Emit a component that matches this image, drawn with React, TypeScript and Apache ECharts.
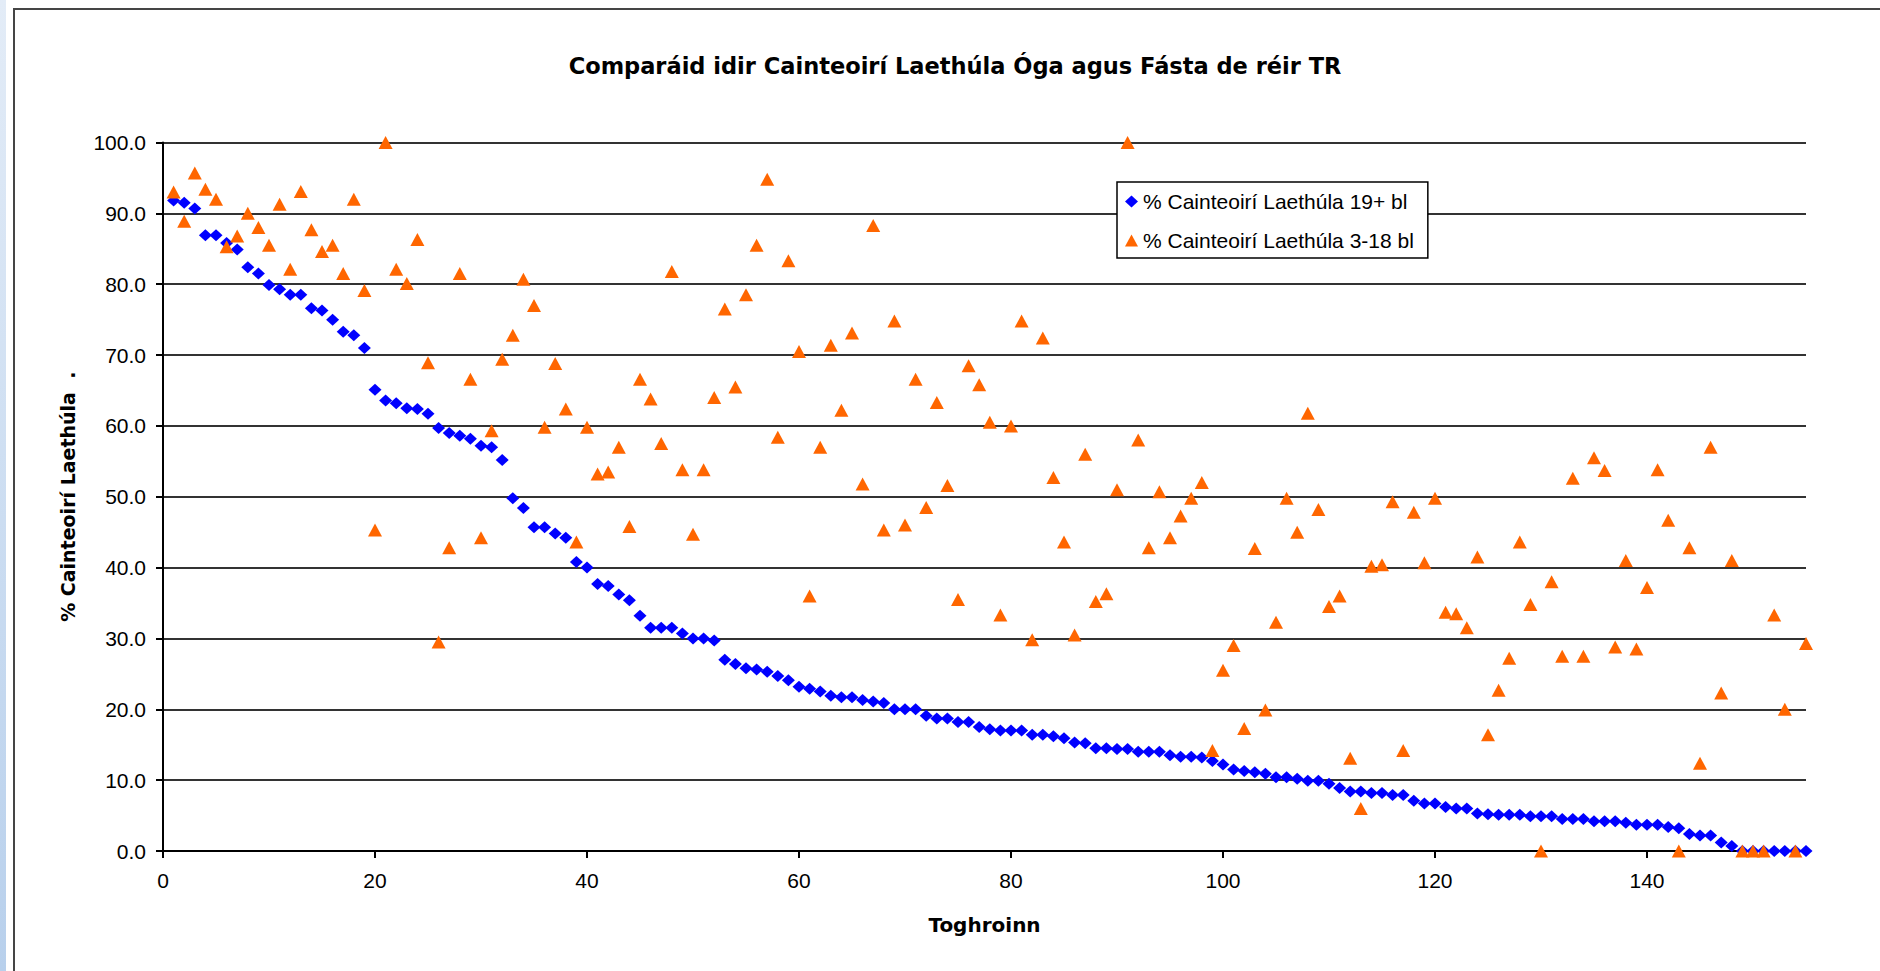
import React, { useEffect, useRef } from "react";
import * as echarts from "echarts";

const titleText = "Comparáid idir Cainteoirí Laethúla Óga agus Fásta de réir TR";
const seriesNames = ["% Cainteoirí Laethúla 19+ bl", "% Cainteoirí Laethúla 3-18 bl"];
const yAxisName = "% Cainteoirí Laethúla  .";
const xAxisName = "Toghroinn";
const xTicks = [0, 20, 40, 60, 80, 100, 120, 140];

const adultValues = [
  91.8, 91.5, 90.7, 86.9, 86.9, 85.8, 84.9, 82.4, 81.5, 79.9,
  79.3, 78.5, 78.5, 76.6, 76.3, 75.0, 73.3, 72.8, 71.0, 65.1,
  63.6, 63.2, 62.5, 62.4, 61.7, 59.7, 59.0, 58.6, 58.2, 57.2,
  57.0, 55.2, 49.8, 48.4, 45.7, 45.7, 44.8, 44.2, 40.8, 40.0,
  37.7, 37.4, 36.2, 35.4, 33.2, 31.5, 31.5, 31.5, 30.7, 30.0,
  30.0, 29.7, 27.0, 26.4, 25.8, 25.6, 25.3, 24.7, 24.1, 23.2,
  22.9, 22.5, 21.9, 21.7, 21.7, 21.3, 21.1, 20.9, 20.0, 20.0,
  20.0, 19.1, 18.7, 18.7, 18.2, 18.2, 17.5, 17.2, 17.0, 17.0,
  17.0, 16.4, 16.4, 16.2, 15.9, 15.3, 15.2, 14.5, 14.5, 14.4,
  14.4, 14.0, 14.0, 14.0, 13.5, 13.3, 13.3, 13.2, 12.7, 12.2,
  11.5, 11.3, 11.1, 10.9, 10.4, 10.4, 10.2, 9.9, 9.9, 9.5,
  8.9, 8.4, 8.4, 8.2, 8.2, 7.9, 7.9, 7.1, 6.7, 6.7,
  6.2, 6.0, 6.0, 5.3, 5.2, 5.1, 5.1, 5.1, 4.9, 4.9,
  4.9, 4.5, 4.5, 4.5, 4.2, 4.2, 4.2, 4.0, 3.7, 3.7,
  3.7, 3.4, 3.2, 2.4, 2.2, 2.2, 1.2, 0.7, 0.0, 0.0,
  0.0, 0.0, 0.0, 0.0, 0.0,
];

const youngValues = [
  93.0, 88.9, 95.7, 93.4, 92.0, 85.3, 86.8, 90.0, 88.0, 85.5,
  91.3, 82.1, 93.1, 87.7, 84.6, 85.5, 81.5, 92.0, 79.1, 45.3,
  100.0, 82.1, 80.1, 86.3, 68.9, 29.5, 42.8, 81.5, 66.6, 44.2,
  59.3, 69.4, 72.8, 80.7, 77.0, 59.8, 68.8, 62.4, 43.6, 59.8,
  53.2, 53.5, 57.0, 45.8, 66.6, 63.8, 57.5, 81.8, 53.8, 44.7,
  53.8, 64.0, 76.5, 65.5, 78.5, 85.5, 94.8, 58.4, 83.3, 70.5,
  36.0, 57.0, 71.4, 62.2, 73.1, 51.8, 88.3, 45.3, 74.8, 46.0,
  66.6, 48.5, 63.3, 51.6, 35.5, 68.5, 65.8, 60.5, 33.3, 60.0,
  74.8, 29.8, 72.4, 52.7, 43.6, 30.5, 56.0, 35.2, 36.3, 51.0,
  100.0, 58.0, 42.8, 50.7, 44.2, 47.3, 49.8, 52.0, 14.2, 25.5,
  29.0, 17.3, 42.7, 19.9, 32.3, 49.8, 45.0, 61.8, 48.2, 34.5,
  36.0, 13.1, 6.0, 40.2, 40.4, 49.3, 14.2, 47.8, 40.7, 49.8,
  33.7, 33.5, 31.5, 41.5, 16.4, 22.7, 27.2, 43.6, 34.8, 0.0,
  38.0, 27.5, 52.6, 27.5, 55.5, 53.7, 28.8, 41.0, 28.5, 37.2,
  53.8, 46.7, 0.0, 42.8, 12.4, 57.0, 22.3, 41.0, 0.0, 0.0,
  0.0, 33.3, 20.0, 0.0, 29.3,
];

const BOLD_FONT = "'DejaVu Sans', Verdana, sans-serif";
const REG_FONT = "'Liberation Sans', Arial, sans-serif";

export default function App() {
  const ref = useRef<HTMLDivElement>(null);

  useEffect(() => {
    document.body.style.margin = "0";
    if (!ref.current) return;
    const chart = echarts.init(ref.current, null, { renderer: "svg" });
    const adultData = adultValues.map((v, i) => [i + 1, v]);
    const youngData = youngValues.map((v, i) => [i + 1, v]);

    chart.setOption({
      animation: false,
      backgroundColor: "#ffffff",
      title: {
        text: titleText,
        left: 950,
        textAlign: "center",
        top: 49,
        textStyle: { fontFamily: BOLD_FONT, fontWeight: "bold", fontSize: 22.5, color: "#000" },
      },
      graphic: [
        {
          type: "rect",
          shape: { x: 0, y: 0, width: 6, height: 971 },
          style: {
            fill: new echarts.graphic.LinearGradient(0, 0, 0, 1, [
              { offset: 0, color: "#e3ecf7" },
              { offset: 1, color: "#b8d0ec" },
            ]),
          },
          silent: true,
        },
        {
          type: "rect",
          shape: { x: 14, y: 9, width: 1900, height: 1000 },
          style: { fill: "none", stroke: "#454545", lineWidth: 2 },
          silent: true,
        },
      ],
      legend: {
        orient: "vertical",
        left: 1117,
        top: 182,
        selectedMode: false,
        backgroundColor: "#fff",
        borderColor: "#000",
        borderWidth: 1.5,
        padding: [9, 14, 7, 8],
        itemGap: 18,
        itemWidth: 13,
        itemHeight: 12,
        textStyle: { fontFamily: REG_FONT, fontSize: 21, color: "#000" },
        data: seriesNames,
      },
      grid: { left: 163, right: 74, top: 142.5, bottom: 120, containLabel: false },
      xAxis: {
        type: "value",
        min: 0,
        max: 155,
        interval: 20,
        name: xAxisName,
        nameLocation: "middle",
        nameGap: 64,
        nameTextStyle: { fontFamily: BOLD_FONT, fontWeight: "bold", fontSize: 20, color: "#000" },
        axisLine: { show: true, onZero: false, lineStyle: { color: "#000", width: 2 } },
        axisTick: { show: true, inside: false, length: 7, lineStyle: { color: "#000", width: 2 }, customValues: xTicks },
        axisLabel: { margin: 19, fontFamily: REG_FONT, fontSize: 21, color: "#000", customValues: xTicks },
        splitLine: { show: false },
      },
      yAxis: {
        type: "value",
        min: 0,
        max: 100,
        interval: 10,
        name: yAxisName,
        nameLocation: "middle",
        nameRotate: 90,
        nameGap: 86,
        nameTextStyle: { fontFamily: BOLD_FONT, fontWeight: "bold", fontSize: 19, color: "#000" },
        axisLine: { show: true, lineStyle: { color: "#000", width: 2 } },
        axisTick: { show: true, inside: false, length: 7, lineStyle: { color: "#000", width: 2 } },
        axisLabel: {
          margin: 17,
          fontFamily: REG_FONT,
          fontSize: 21,
          color: "#000",
          formatter: (v: number) => v.toFixed(1),
        },
        splitLine: { show: true, lineStyle: { color: "#333", width: 2 } },
      },
      series: [
        {
          name: seriesNames[0],
          type: "scatter",
          symbol: "diamond",
          symbolSize: [13, 12],
          itemStyle: { color: "#0000ff", opacity: 1 },
          data: adultData,
        },
        {
          name: seriesNames[1],
          type: "scatter",
          symbol: "triangle",
          symbolSize: [14, 13],
          itemStyle: { color: "#ff6600", opacity: 1 },
          data: youngData,
        },
      ],
    });

    return () => {
      chart.dispose();
    };
  }, []);

  return (
    <div
      ref={ref}
      style={{ position: "absolute", left: 0, top: 0, width: 1880, height: 971 }}
    />
  );
}
